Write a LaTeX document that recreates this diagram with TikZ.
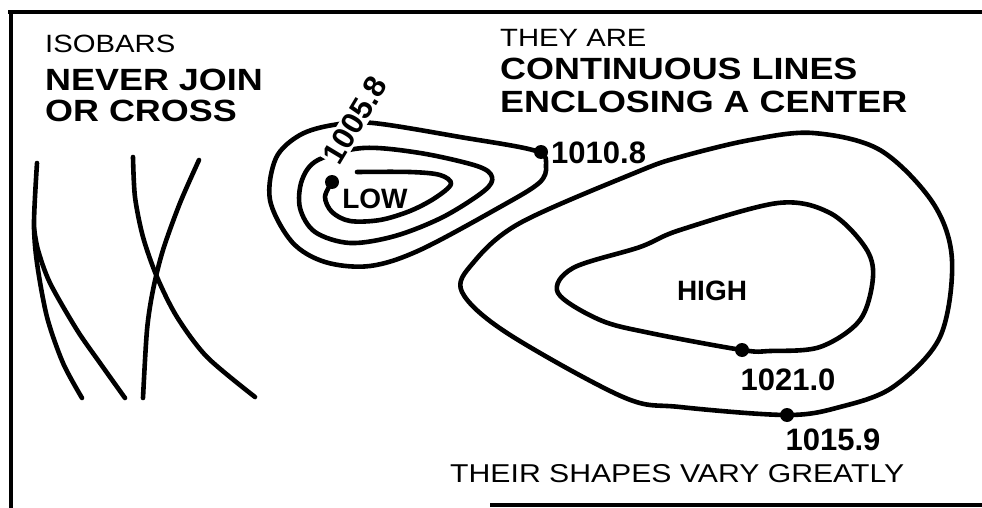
\documentclass[tikz,border=0pt]{standalone}
\usepackage{fontspec}
\setmainfont{Liberation Sans}
\tikzset{
    isobar/.style = {
        line width=4.6pt, line cap=round, line join=round
    },
    frameline/.style = {
        line width=3.2pt
    },
    heading/.style = {
        anchor=base west, inner sep=0pt, xscale=1.17,
        font=\fontsize{25}{30}\selectfont
    },
    headline/.style = {
        anchor=base west, inner sep=0pt, xscale=1.17,
        font=\fontsize{30.7}{36}\selectfont\bfseries
    },
    pressure/.style = {
        inner sep=1.5pt,
        font=\fontsize{31}{36}\selectfont\bfseries
    },
    centre/.style = {
        inner sep=0pt,
        font=\fontsize{28}{32}\selectfont\bfseries
    },
    dot/.style = {
        circle, fill, inner sep=0pt, minimum size=14pt
    }
}
\begin{document}
\begin{tikzpicture}[x=1pt, y=-1pt]

\useasboundingbox (0,0) rectangle (982,508);

\draw [frameline] (8,12) -- (982,12);
\draw [frameline] (11,12) -- (11,508);
\draw [frameline] (490,505) -- (982,505);

\node (isobars) [heading] at (45,53) {ISOBARS};
\node (never) [headline] at (45,90.5) {NEVER JOIN};
\node (cross) [headline] at (45,121.5) {OR CROSS};
\node (theyare) [heading] at (500,47) {THEY ARE};
\node (contin) [headline] at (500,80) {CONTINUOUS LINES};
\node (enclose) [headline] at (500,113) {ENCLOSING A CENTER};
\node (shapes) [heading, font=\fontsize{25.8}{30}\selectfont] at (450,482) {THEIR SHAPES VARY GREATLY};

\draw [isobar] plot [smooth] coordinates {(37,163) (34,223) (37,263) (47,317) (63,363) (82,398)};
\draw [isobar] plot [smooth] coordinates {(34,228) (38,250) (50,283) (77,330) (100,363) (125,398)};
\draw [isobar] plot [smooth] coordinates {(133,157) (135,197) (143,237) (157,277) (177,317) (207,357) (255,397)};
\draw [isobar] plot [smooth] coordinates {(199,160) (180,203) (163,250) (153,290) (147,330) (143,398)};

\draw [isobar] plot [smooth cycle, tension=0.55] coordinates {(333,125) (373,123) (460,137) (536,151) (546,166) (539,183) (500,207) (420,250) (370,266) (325,262) (292,242) (270,200) (276,158) (300,135)};
\draw [isobar] plot [smooth cycle, tension=0.55] coordinates {(363,148) (420,153) (477,166) (492,177) (484,191) (443,217) (395,236) (350,243) (315,232) (300,208) (302,180) (318,160)};
\draw [isobar] plot [smooth, tension=0.55] coordinates {(357,172) (410,172) (440,175) (451,184) (435,198) (410,211) (380,220) (350,221) (332,212) (325,197) (332,182)};

\draw [isobar] plot [smooth cycle, tension=0.55] coordinates {(462,292) (473,263) (520,223) (637,172) (680,157) (750,140) (813,133) (880,150) (933,203) (952,260) (940,337) (893,387) (840,407) (787,415) (680,407) (623,397) (507,333)};
\draw [isobar] plot [smooth cycle, tension=0.55] coordinates {(558,293) (573,268) (640,247) (680,230) (778,203) (830,213) (865,247) (873,277) (860,320) (820,347) (770,351) (742,350) (650,333) (600,320)};

\node (p1005) [pressure, fill=white, rotate=59] at (355,120) {1005.8};
\node (p1010) [pressure, anchor=west, inner sep=0pt] at (551,153) {1010.8};
\node (p1021) [pressure] at (788,380) {1021.0};
\node (p1015) [pressure] at (833,440) {1015.9};
\node (low) [centre] at (375,199) {LOW};
\node (high) [centre] at (712,291) {HIGH};

\node (d1005) [dot] at (332,182) {};
\node (d1010) [dot] at (541,152) {};
\node (d1021) [dot] at (742,350) {};
\node (d1015) [dot] at (787,415) {};

\end{tikzpicture}
\end{document}
